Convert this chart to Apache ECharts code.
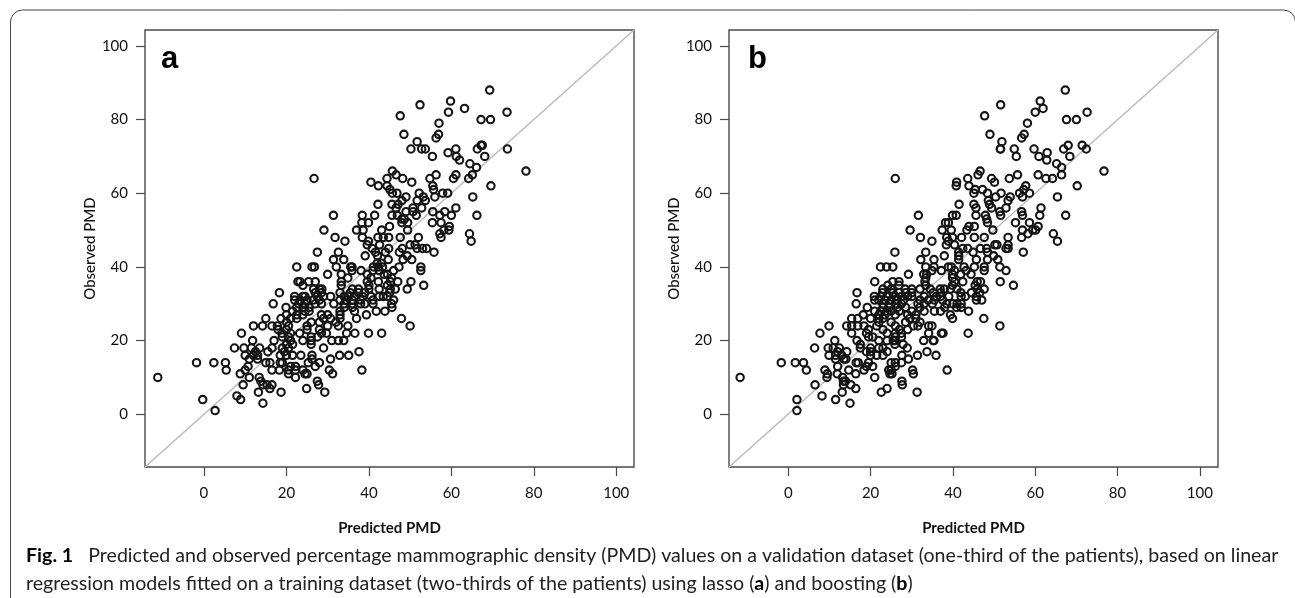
<!DOCTYPE html>
<html><head><meta charset="utf-8">
<style>html,body{margin:0;padding:0;background:#fff}#c{width:1295px;height:598px}</style>
<script src="https://cdn.jsdelivr.net/npm/echarts@6/dist/echarts.min.js"></script></head>
<body><div id="c"></div>
<script>
const tickLabels = [0,20,40,60,80,100];
const xName = 'Predicted PMD', yName = 'Observed PMD';
const caption1 = 'Predicted and observed percentage mammographic density (PMD) values on a validation dataset (one-third of the patients), based on linear';
const caption2 = 'regression models fitted on a training dataset (two-thirds of the patients) using lasso (';
// [observed PMD, [predicted PMD ...]]
const lassoRows = [
[88,[69.3]],[85,[59.8]],[84,[52.4]],[83,[63.2]],[82,[59.3,73.5]],[81,[47.6]],[80,[67.2,69.5]],[79,[57]],
[76,[48.5,56.9]],[75,[56.3]],[74,[51.7]],[73,[67.2,67.5]],[72,[50.2,52.8,53.7,61.1,66.3,73.6]],[71,[59.2]],
[70,[55.4,61.2,68.1]],[69,[62]],[68,[64.5]],[67,[66.1]],[66,[45.7,78.1]],[65,[46.6,56.3,61.1,65.1]],
[64,[26.7,44.4,48.2,54.8,60.5,64.2]],[63,[40.5,50.4]],[62,[42.3,44.4,55.5,69.6]],[61,[45.1,55.7]],
[60,[45.7,46.8,52.2,57.9,59.1]],[59,[49,53.2,56,65.2]],[58,[48,51.7,53.7]],[57,[42.2,45.6,47.1]],
[56,[46.6,50.7,52.8,61.1]],[55,[49,50.7,55.5,58.4]],[54,[31.4,38.4,41.4,45.6,46.9,51.5,57.2,60,66.2]],
[53,[48,48.6]],[52,[38.3,39.9,48,49.4,55.4,57.5]],[51,[45,59.5]],[50,[29.1,37,38.6,43.1,49.4,58.2,59.4]],
[49,[57.2,64.4]],[48,[31.8,38.4,42.2,43.5,44.8,47.6,52,57.5]],[47,[34.2,39.9,64.8]],[46,[39.6,42.6,50,51.2]],
[45,[40.8,44.8,48.1,51.7,53,54]],[44,[27.5,32.6,41.6,44,47.4,55.8]],[43,[39.1,42.1,49.3]],
[42,[31.4,33.9,44.7,48.3,50.4]],[41,[42,43]],[40,[22.5,26.2,26.8,32.1,35.6,35.9,41.1,42.3,43.3,47.3,52.6]],
[39,[35.9,38.1,41,42.5,46,52.6]],[38,[30,33.3,39.6,43.7,44.5]],[37,[34.9,40.5,45.5]],
[36,[22.8,23.3,25.4,27,33.3,39.6,42.3,45.2,47,50.2]],[35,[24,33.3,40,44.5,53.3]],
[34,[26.6,28,28.6,36,37.5,40,42.5,45.2,46.4,49.3]],[33,[18.3,27,28.5,33,35.5,37.5,39,45]],
[32,[22,24,24.5,27.5,29,30.7,34,35,36.5,38.5,40.5,42.5,43.5,44.5]],[31,[22,23.3,25,26.5,28,33,34.5,36,38,41,46]],
[30,[16.8,23,24.5,27,28.5,31.5,34,36,38,39,41,45.5]],[29,[19.9,22.5,24,25.5,34,36,45.6]],
[28,[21.5,24.5,25.5,33,36.5,41.8,43.9]],[27,[20,22.5,24,28.5,30,33,39.4]],
[26,[15,18.7,21,22.5,29,30.7,33,37,47.9]],[25,[20,26,28,32]],[24,[12,14.2,16.5,17.8,20.5,25,30,32.6,34.9,50]],
[23,[18,20,25,28]],[22,[9.1,18.9,21,23.2,28.5,29.7,34.6,36.6,39.9,43.1]],[21,[19,20.5,26,27.5]],
[20,[11.8,17,21,24,26,31,32.6,33.9]],[19,[20,21.5,26]],[18,[7.4,9.7,11.5,13.5,16.5,19,20.5,29]],
[17,[12.5,15.5,19.5,37.6]],[16,[10,12,13,18.5,20,21.5,23.5,26.2,32.9,35.1]],[15,[11,13,26.2,30.7]],
[14,[-1.8,2.4,5.2,15,16,18.5,19,25.3,28]],[13,[10.7,21,22.2,27]],[12,[5.4,10,16.5,18.3,20.5,22.2,24,30.4,38.3]],
[11,[8.8,20.5,24.5,25,31.2]],[10,[-11.2,11,13.4,22.2]],[9,[13.8,27.5]],[8,[9.5,14.3,15.3,16.5,27.8]],
[7,[16,24.9]],[6,[13.2,18.7,29.3]],[5,[8]],[4,[-0.3,8.9]],[3,[14.3]],[1,[2.7]]
];
const boostingRows = [
[88,[67.3]],[85,[61.2]],[84,[51.6]],[83,[61.9]],[82,[60,72.6]],[81,[47.7]],[80,[67.6,70]],[79,[58.1]],
[76,[49,57.3]],[75,[56.7]],[74,[51.9]],[73,[68,71.4]],[72,[51.5,51.6,54.9,59.7,66.9,72.4]],[71,[62.9]],
[70,[55.4,60.9,68.4]],[69,[62.8]],[68,[65.2]],[67,[66.4]],[66,[46.6,76.7]],[65,[46.1,55.7,60.7,66.4]],
[64,[26,43.6,49.4,53.7,62.6,64.2]],[63,[40.9,50.1]],[62,[40.8,43.9,57.7,70.2]],[61,[45.4,47.2,57.2]],
[60,[45.1,48.4,51.7,56.2,58.6]],[59,[50.4,53.9,56.9,65.4]],[58,[48.6,53.4]],[57,[41.5,45.1,48.9]],
[56,[45.6,49.4,52.9,61.4]],[55,[51.4,56.7]],[54,[31.6,39.9,40.8,45.6,47.9,51.6,56.9,61.1,67.4]],[53,[48.2]],
[52,[38.2,38.9,48.4,55.2,58.6]],[51,[43.9,45.2,60.7]],[50,[29.6,37.4,39.6,43.4,49.7,56.9,59.4,60.1]],
[49,[58.2,64.4]],[48,[32.1,38.5,39.9,42.1,45.2,47.6,53.4,56.7]],[47,[34.9,38.9,65.4]],[46,[38.4,40.4,50.2,50.7,53.4]],
[45,[42.4,43.6,46.7,48.2,52.9,53.4]],[44,[25.9,33.4,41.4,44.9,48.4,57.1]],[43,[37.9,41.4,49.9]],
[42,[32.2,35.4,41.4,45.7,48.4,50.9]],[40,[22.4,23.9,25.4,33.4,35.4,38.9,39.6,42.7,45.2,47.6,51.4]],
[39,[34.9,37.2,40.4,43.2,47.6,52.9]],[38,[29.2,32.9,33.6,39.9,41.9,44.4]],[37,[33.4,39.9]],
[36,[21,25.4,26.9,33.2,40.4,42.4,45.9,46.7,51.5]],[35,[24.2,26.9,33.4,39.9,45.4,54.7]],
[34,[23,25,28.4,30,32,34.5,36.9,37.9,39.4,41,45.9,47.6]],[33,[16.7,22.9,25.4,26.9,28.5,30,35.2,37,41.9,44.5,46.5]],
[32,[20.9,22.5,24,26,27.5,29,30,33,36,37,39,42,43,45.7]],[31,[21,22,23.5,25,26.5,28,32,34,35.5,37.5,45.7,47]],
[30,[16.5,23,24.5,26,27.5,31.5,33,35,38.5,40,41,42]],[29,[19.2,23,24.5,26.5,28.5,32,38,40.9,42]],
[28,[21,22.5,24,25,27,30,33,35.5,37,43.8]],[27,[18.2,22,23.5,26,29,31,39.4]],
[26,[15.4,16.9,20,22,23,29.5,31,39.9,47.5]],[25,[22,25,28.5,32]],
[24,[9.9,14.2,15.4,16.9,18.4,21.5,26,30.4,31.5,34.1,34.9,51.4]],[23,[19.5,23,27,29]],
[22,[7.7,15.4,19,24,26,27.5,34.1,37.2,37.6,43.7]],[21,[19.5,20.5,26,27.5]],
[20,[11.3,16.7,22,24,25.5,26,32.9,35.2,35.4]],[19,[17.5,25.9,27.9]],[18,[6.4,9.7,10.9,12.4,17.5,20,22,23,28.9]],
[17,[12,14.2,19,20,24,33.7]],[16,[9.9,11.5,13,20,21.5,23,27.6,31.4,35.9]],[15,[11.5,13.5,14,29.2]],
[14,[-1.7,1.7,3.7,16.5,17,19.5,25,26,27.5]],[13,[12,19,20.5,26]],[12,[4.4,8.9,14.7,18.4,24.4,25,30.2,38.6]],
[11,[9.5,11.9,16.4,24.7,25.2,30.4]],[10,[-11.7,9.4,13.2,21]],[9,[13.4,13.9,27.6]],[8,[6.5,13.4,15.2,27.7]],
[7,[16.4,24]],[6,[13.1,22.6,31.3]],[5,[8.2]],[4,[2.1,11.5]],[3,[15]],[1,[2.1]]
];
const expand = rows => rows.flatMap(([o,ps]) => ps.map(p => [p,o]));
const font = 'Lato';
const axisColor = '#4a4a4a', ink = '#111';
const LIM = {a:[-14.3,104.3], b:[-14.4,104.4]};
function xAxis(i,lim){return {gridIndex:i,type:'value',min:lim[0],max:lim[1],splitLine:{show:false},
  name:xName,nameLocation:'middle',nameGap:54,nameTextStyle:{fontFamily:font,fontWeight:'bold',fontSize:15,color:ink},
  axisLine:{show:false,onZero:false},
  axisTick:{show:true,length:9,customValues:tickLabels,lineStyle:{color:axisColor,width:1.2}},
  axisLabel:{show:true,customValues:tickLabels,margin:19,fontFamily:font,fontSize:15,color:ink,hideOverlap:false}};}
function yAxis(i){return {gridIndex:i,type:'value',min:-14.3,max:104.3,splitLine:{show:false},
  name:yName,nameLocation:'middle',nameGap:37,nameTextStyle:{fontFamily:font,fontSize:15,fontWeight:500,color:ink},
  axisLine:{show:false,onZero:false},
  axisTick:{show:true,length:9,customValues:tickLabels,lineStyle:{color:axisColor,width:1.2}},
  axisLabel:{show:true,customValues:tickLabels,margin:17,fontFamily:font,fontSize:15,color:ink}};}
function pts(i,data){return {type:'scatter',xAxisIndex:i,yAxisIndex:i,data,symbol:'circle',symbolSize:7.4,silent:true,z:3,
  itemStyle:{color:'rgba(0,0,0,0)',borderColor:'#141414',borderWidth:2.1,opacity:1}};}
function diag(i,lim){return {type:'line',xAxisIndex:i,yAxisIndex:i,data:[[lim[0],-14.3],[lim[1],104.3]],showSymbol:false,silent:true,z:2,
  lineStyle:{color:'#bcbcbc',width:1.6}};}
function box(){return {show:true,borderColor:axisColor,borderWidth:1.4,backgroundColor:'transparent'};}
const chart = echarts.init(document.getElementById('c'),null,{renderer:'canvas'});
chart.setOption({
 animation:false,backgroundColor:'#fff',
 grid:[{left:145,top:30,width:489,height:437,...box()},{left:729,top:30,width:489,height:437,...box()}],
 xAxis:[xAxis(0,LIM.a),xAxis(1,LIM.b)],
 yAxis:[yAxis(0),yAxis(1)],
 series:[diag(0,LIM.a),pts(0,expand(lassoRows)),diag(1,LIM.b),pts(1,expand(boostingRows))],
 graphic:[
  {type:'rect',silent:true,z:-1,shape:{x:10.5,y:10,width:1285,height:600,r:[12,12,0,0]},style:{fill:'none',stroke:'#444',lineWidth:1}},
  {type:'text',left:161,top:44,style:{text:'a',font:'bold 31px "Liberation Sans"',fill:'#000'}},
  {type:'text',left:748,top:44,style:{text:'b',font:'bold 31px "Liberation Sans"',fill:'#000'}},
  {type:'text',left:26,top:546,style:{text:'{b|Fig. 1}   '+caption1,font:'19.6px Lato',fill:'#222',rich:{b:{font:'bold 19.6px Lato',fill:'#000'}}}},
  {type:'text',left:26,top:574,style:{text:caption2+'{b|a}) and boosting ({b|b})',font:'19.6px Lato',fill:'#222',rich:{b:{font:'bold 19.6px Lato',fill:'#000'}}}}
 ]
});
</script></body></html>
